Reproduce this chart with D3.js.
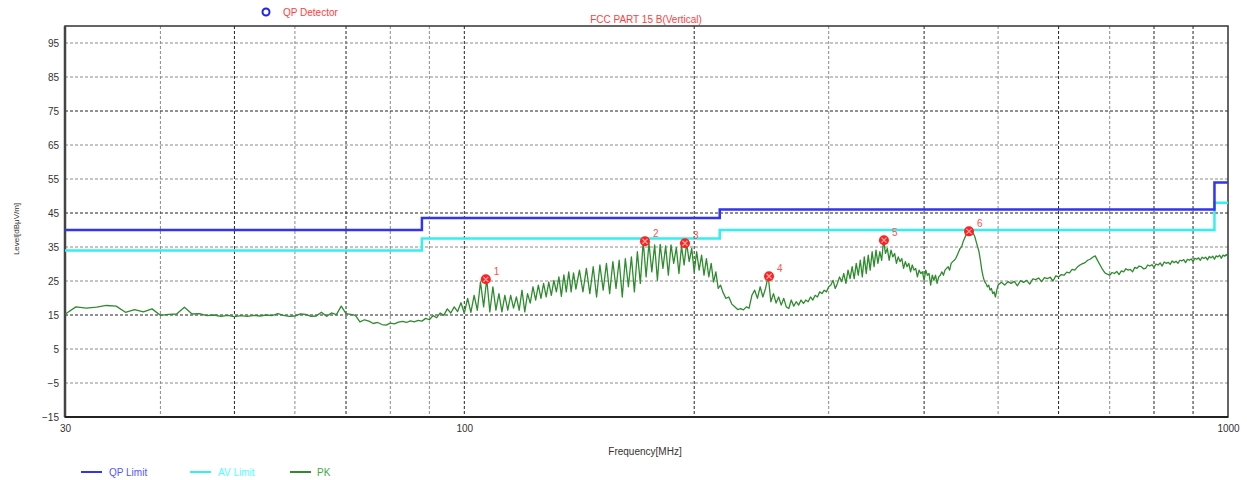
<!DOCTYPE html>
<html>
<head>
<meta charset="utf-8">
<script src="https://cdn.jsdelivr.net/npm/d3@7"></script>
<style>
    body { margin: 0; background: #fff; }
    svg { font-family: Arial, "Liberation Sans", sans-serif; }
</style>
</head>
<body>
<script>
// ------------------------------- data -------------------------------------

const xTicks = [30, 100, 1000]
const yTicks = [-15, -5, 5, 15, 25, 35, 45, 55, 65, 75, 85, 95]
const vGrid = [40, 50, 60, 70, 80, 90, 100, 200, 300, 400, 500, 600, 700, 800, 900]
const vGridDark = [50, 70, 100, 200, 400, 600, 800, 900]
const hGridDark = [15, 45, 75]

// limit lines (step after)
const limitFreq = [30, 88, 216, 960, 1000]
const qpLimit = [40, 43.5, 46, 54, 54]
const avLimit = [34, 37.5, 40, 48, 48]

// PK trace
const pkFreq = [
    30, 31, 32, 33, 34, 35, 36, 37, 38, 39, 40, 41, 42, 43, 44, 45, 46, 47, 48, 49,
    50, 51, 52, 53, 54, 55, 56, 57, 58, 59, 60, 61, 62, 63, 64, 65, 66, 67, 68, 69,
    70, 71, 72, 73, 74, 75, 76, 77, 78, 79, 80, 81, 82, 83, 84, 85, 86, 87, 88,
    89, 90, 91, 92, 93, 94, 95, 96, 97, 98, 99, 100, 101, 102, 103, 104, 105, 106, 107, 108,
    109, 110, 111, 112, 113, 114, 115, 116, 117, 118, 119, 120, 121, 122, 123, 124, 125, 126, 127, 128,
    129, 130, 131, 132, 133, 134, 135, 136, 137, 138, 139, 140,
    141.5, 143, 144.5, 146, 147.5, 149, 150.5, 152, 153.5, 155, 156.5, 158, 159.5, 161, 162.5, 164, 165.5,
    167, 168.5, 170, 171.5, 173, 174.5, 176, 177.5, 179, 180.5, 182, 183.5, 185, 186.5, 188, 189.5, 191,
    192.5, 194, 195.5, 197, 198.5, 200, 201.5, 203, 204.5, 206, 207.5, 209, 210.5, 212, 213.5, 215, 216.5,
    218, 220, 222, 224, 226, 228, 230, 232, 234, 236, 238, 240, 242, 244, 246, 248, 250, 252, 254, 256,
    258, 260, 262, 264, 266, 268, 270, 272, 274, 276, 278, 280, 282, 284, 286, 288, 290, 292, 294, 296,
    298, 300,
    302, 304, 306, 308, 310, 312, 314, 316, 318, 320, 322, 324, 326, 328, 330, 332, 334, 336, 338, 340,
    342, 344, 346, 348, 350, 352, 354, 356, 358, 360, 362, 364, 366, 368, 370, 372, 374, 376, 378, 380,
    382, 384, 386, 388, 390, 392, 394, 396, 398, 400, 402, 404, 406, 408, 410, 412, 414, 416, 418, 420,
    422, 424, 426, 428, 430, 432, 434, 436, 438, 440, 442, 444, 446, 448, 450, 452, 454, 456, 458, 460,
    462, 464, 466, 468, 470, 472, 474, 476, 478, 480, 482, 484, 486, 488, 490, 492, 494, 496, 498, 500,
    505, 510, 515, 520, 525, 530, 535, 540, 545, 550, 555, 560, 565, 570, 575, 580, 585, 590, 595, 600,
    605, 610, 615, 620, 625, 630, 635, 640, 645, 650, 655, 660, 665, 670, 675, 680, 685, 690, 695, 700,
    705, 710, 715, 720, 725, 730, 735, 740, 745, 750, 755, 760, 765, 770, 775, 780, 785, 790, 795, 800,
    805, 810, 815, 820, 825, 830, 835, 840, 845, 850, 855, 860, 865, 870, 875, 880, 885, 890, 895, 900,
    905, 910, 915, 920, 925, 930, 935, 940, 945, 950, 955, 960, 965, 970, 975, 980, 985, 990, 995, 1000
]
const pkLevel = [
    15.2, 17.4, 17.0, 17.3, 17.8, 17.6, 15.8, 16.6, 15.9, 16.8, 14.9, 15.2, 15.3, 17.3, 15.3, 15.4, 14.8, 15.0, 14.6, 14.9,
    14.5, 14.8, 14.6, 14.9, 14.7, 15.0, 14.8, 15.4, 14.9, 14.6, 14.7, 15.3, 15.2, 14.6, 14.7, 15.8, 14.6, 15.6, 15.1, 17.6,
    15.4, 15.2, 14.9, 13.0, 13.6, 13.2, 12.5, 12.8, 12.2, 12.0, 12.6, 12.4, 12.9, 13.1, 12.8, 13.3, 13.0, 13.4, 13.2,
    14.0, 13.6, 14.8, 14.2, 15.6, 14.9, 16.8, 15.6, 17.4, 16.0, 18.6, 15.5, 19.9, 15.8, 20.8, 16.4, 24.7, 17.4, 25.6, 15.9,
    23.3, 16.4, 21.3, 15.9, 20.8, 16.4, 20.8, 17.0, 20.3, 16.4, 22.3, 15.9, 21.3, 18.5, 23.3, 19.4, 23.8, 19.9, 24.3, 20.3,
    24.7, 20.8, 25.2, 21.8, 26.2, 20.5, 26.8, 21.8, 27.7, 21.8, 27.4, 22.6,
    28.2, 21.8, 28.7, 21.3, 29.2, 20.3, 29.7, 22.3, 30.2, 21.3, 30.7, 22.8, 31.1, 20.3, 31.6, 23.3, 32.1,
    21.8, 33.6, 24.3, 36.7, 26.2, 36.1, 27.7, 35.6, 25.2, 35.8, 28.7, 35.3, 26.7, 35.6, 30.2, 34.8, 27.2,
    35.3, 29.7, 36.1, 30.7, 34.6, 27.7, 33.6, 28.2, 32.6, 26.7, 31.6, 26.2, 30.2, 24.7, 27.7, 22.8, 23.8,
    21.8, 19.9, 20.3, 18.2, 17.4, 16.6, 16.9, 16.5, 17.4, 17.0, 20.8, 22.3, 19.9, 23.3, 20.3, 22.8, 26.5, 18.9, 21.3, 18.5,
    20.3, 17.9, 19.9, 17.4, 16.9, 19.4, 17.6, 18.9, 17.9, 19.4, 18.4, 19.4, 18.9, 20.3, 19.4, 20.8, 20.3, 21.8, 21.3, 22.3,
    21.8, 23.3,
    23.8, 25.2, 22.8, 24.3, 26.2, 24.8, 27.2, 24.3, 28.2, 25.7, 29.2, 25.7, 30.2, 26.7, 31.1, 26.2, 32.1, 27.2, 32.6, 28.2,
    33.6, 29.2, 34.1, 30.2, 33.6, 31.1, 37.0, 33.1, 34.6, 31.1, 34.1, 32.1, 33.1, 30.2, 32.1, 30.7, 31.6, 28.7, 30.7, 29.2,
    30.2, 27.7, 29.7, 28.2, 28.7, 26.2, 28.2, 27.2, 27.7, 25.2, 28.2, 26.7, 27.2, 23.8, 26.7, 25.2, 26.7, 24.3, 26.2, 26.7,
    27.7, 26.7, 28.2, 28.7, 29.2, 28.2, 30.2, 30.7, 31.1, 31.6, 32.6, 33.6, 34.6, 35.1, 36.6, 37.6, 38.6, 39.3, 39.6, 38.6,
    39.3, 39.0, 38.1, 36.6, 35.1, 33.6, 31.1, 28.2, 26.2, 24.8, 24.3, 23.3, 23.8, 22.3, 22.8, 21.3, 21.8, 20.3, 22.3, 23.8,
    24.6, 23.8, 24.8, 24.3, 24.9, 23.6, 25.1, 24.6, 25.2, 24.1, 25.6, 25.4, 25.9, 24.8, 26.0, 25.7, 26.1, 25.0, 26.5, 26.2,
    26.9, 26.7, 27.6, 27.4, 28.4, 28.2, 29.1, 29.7, 30.1, 30.4, 31.1, 31.4, 32.0, 32.4, 31.0, 29.7, 28.4, 27.4, 27.0, 26.7,
    27.5, 27.2, 27.8, 26.9, 28.0, 27.7, 28.6, 28.2, 28.4, 27.7, 29.0, 28.7, 29.4, 29.2, 28.6, 28.7, 29.7, 29.4, 29.8, 29.0,
    30.0, 29.7, 30.3, 29.4, 30.6, 30.2, 30.5, 29.9, 30.9, 30.4, 30.8, 30.2, 31.1, 30.9, 31.3, 30.4, 31.4, 31.1, 31.5, 30.7,
    31.7, 31.4, 31.8, 31.1, 32.0, 31.6, 32.0, 31.2, 32.2, 31.8, 32.3, 31.4, 32.4, 32.1, 32.6, 31.7, 32.6, 32.3, 32.8, 32.1
]

// QP detector markers
const markerFreq = [106.7, 172.4, 194.5, 250.6, 354.4, 458.0]
const markerLevel = [25.5, 36.7, 36.1, 26.4, 37.0, 39.6]
const markerLabel = ["1", "2", "3", "4", "5", "6"]

const legendItems = [
    { name: "QP Limit", color: "#3333f0", text: "#5555ff" },
    { name: "AV Limit", color: "#33f0f0", text: "#55ffff" },
    { name: "PK", color: "#2e8b2e", text: "#44aa44" }
]

// ------------------------------- layout -----------------------------------

const W = 1247, H = 480
const margin = { top: 26, right: 19, bottom: 63, left: 65 }

const svg = d3.select("body").append("svg")
    .attr("width", W)
    .attr("height", H)

const x = d3.scaleLog()
    .domain([30, 1000])
    .range([margin.left, W - margin.right])

const y = d3.scaleLinear()
    .domain([-15, 100])
    .range([H - margin.bottom, margin.top])

// ------------------------------- grid -------------------------------------

svg.append("g")
    .selectAll("line")
    .data(vGrid)
    .join("line")
    .attr("x1", d => x(d)).attr("x2", d => x(d))
    .attr("y1", y(100)).attr("y2", y(-15))
    .attr("stroke", d => vGridDark.includes(d) ? "#222" : "#8a8a8a")
    .attr("stroke-width", 1)
    .attr("stroke-dasharray", "3,2")

svg.append("g")
    .selectAll("line")
    .data(yTicks.filter(d => d > -15))
    .join("line")
    .attr("x1", x(30)).attr("x2", x(1000))
    .attr("y1", d => y(d)).attr("y2", d => y(d))
    .attr("stroke", d => hGridDark.includes(d) ? "#222" : "#8a8a8a")
    .attr("stroke-width", 1)
    .attr("stroke-dasharray", "3,2")

// frame
svg.append("rect")
    .attr("x", x(30)).attr("y", y(100))
    .attr("width", x(1000) - x(30))
    .attr("height", y(-15) - y(100))
    .attr("fill", "none")
    .attr("stroke", "#333")
    .attr("stroke-width", 1.5)
svg.append("line")
    .attr("x1", x(30)).attr("x2", x(30))
    .attr("y1", y(100)).attr("y2", y(-15))
    .attr("stroke", "#444").attr("stroke-width", 2.5)
svg.append("line")
    .attr("x1", x(30)).attr("x2", x(1000))
    .attr("y1", y(-15)).attr("y2", y(-15))
    .attr("stroke", "#222").attr("stroke-width", 2)

// ------------------------------- axes -------------------------------------

const yAxis = svg.append("g")
    .attr("transform", `translate(${x(30)},0)`)
    .call(d3.axisLeft(y).tickValues(yTicks).tickSize(0).tickPadding(6))
yAxis.select(".domain").remove()
yAxis.selectAll("text")
    .attr("font-size", 10)
    .attr("fill", "#333")

const xAxis = svg.append("g")
    .attr("transform", `translate(0,${y(-15)})`)
    .call(d3.axisBottom(x).tickValues(xTicks).tickFormat(d3.format("d")).tickSize(0).tickPadding(8))
xAxis.select(".domain").remove()
xAxis.selectAll("text")
    .attr("font-size", 10)
    .attr("fill", "#333")

svg.append("text")
    .attr("x", 645).attr("y", 455)
    .attr("text-anchor", "middle")
    .attr("font-size", 10)
    .attr("fill", "#333")
    .text("Frequency[MHz]")

svg.append("text")
    .attr("transform", "translate(19,229) rotate(-90)")
    .attr("text-anchor", "middle")
    .attr("font-size", 8)
    .attr("fill", "#333")
    .text("Level[dBμV/m]")

// ------------------------------- titles -----------------------------------

svg.append("text")
    .attr("x", 646).attr("y", 23)
    .attr("text-anchor", "middle")
    .attr("font-size", 10)
    .attr("fill", "#ff4040")
    .text("FCC PART 15 B(Vertical)")

svg.append("circle")
    .attr("cx", 266).attr("cy", 12).attr("r", 3.5)
    .attr("fill", "none")
    .attr("stroke", "#2020f0")
    .attr("stroke-width", 2)
svg.append("text")
    .attr("x", 283).attr("y", 16)
    .attr("font-size", 10)
    .attr("fill", "#ff4040")
    .text("QP Detector")

// ------------------------------- lines ------------------------------------

const stepLine = d3.line()
    .x(d => x(d[0]))
    .y(d => y(d[1]))
    .curve(d3.curveStepAfter)

svg.append("path")
    .datum(limitFreq.map((f, i) => [f, avLimit[i]]))
    .attr("d", stepLine)
    .attr("fill", "none")
    .attr("stroke", legendItems[1].color)
    .attr("stroke-width", 2.5)

svg.append("path")
    .datum(limitFreq.map((f, i) => [f, qpLimit[i]]))
    .attr("d", stepLine)
    .attr("fill", "none")
    .attr("stroke", legendItems[0].color)
    .attr("stroke-width", 2.5)

const pkLine = d3.line()
    .x(d => x(d[0]))
    .y(d => y(d[1]))

svg.append("path")
    .datum(pkFreq.map((f, i) => [f, pkLevel[i]]))
    .attr("d", pkLine)
    .attr("fill", "none")
    .attr("stroke", legendItems[2].color)
    .attr("stroke-width", 1.3)
    .attr("stroke-linejoin", "round")

// ------------------------------- markers ----------------------------------

const markers = svg.append("g")
    .selectAll("g")
    .data(markerFreq.map((f, i) => ({ f: f, l: markerLevel[i], name: markerLabel[i] })))
    .join("g")
    .attr("transform", d => `translate(${x(d.f)},${y(d.l)})`)

markers.append("circle")
    .attr("r", 5)
    .attr("fill", "#ff2020")
markers.append("path")
    .attr("d", "M-2.5,-2.5L2.5,2.5M-2.5,2.5L2.5,-2.5")
    .attr("stroke", "#ffaaaa")
    .attr("stroke-width", 1.2)
markers.append("text")
    .attr("x", 8).attr("y", -4)
    .attr("font-size", 10)
    .attr("fill", "#ff5050")
    .text(d => d.name)

// ------------------------------- legend -----------------------------------

const legendX = [81, 190, 290]
const legend = svg.append("g")
    .selectAll("g")
    .data(legendItems)
    .join("g")
    .attr("transform", (d, i) => `translate(${legendX[i]},472)`)

legend.append("line")
    .attr("x1", 0).attr("x2", 21)
    .attr("stroke", d => d.color)
    .attr("stroke-width", 2)
legend.append("text")
    .attr("x", (d, i) => i == 2 ? 27 : 28)
    .attr("y", 4)
    .attr("font-size", 10)
    .attr("fill", d => d.text)
    .text(d => d.name)
</script>
</body>
</html>
